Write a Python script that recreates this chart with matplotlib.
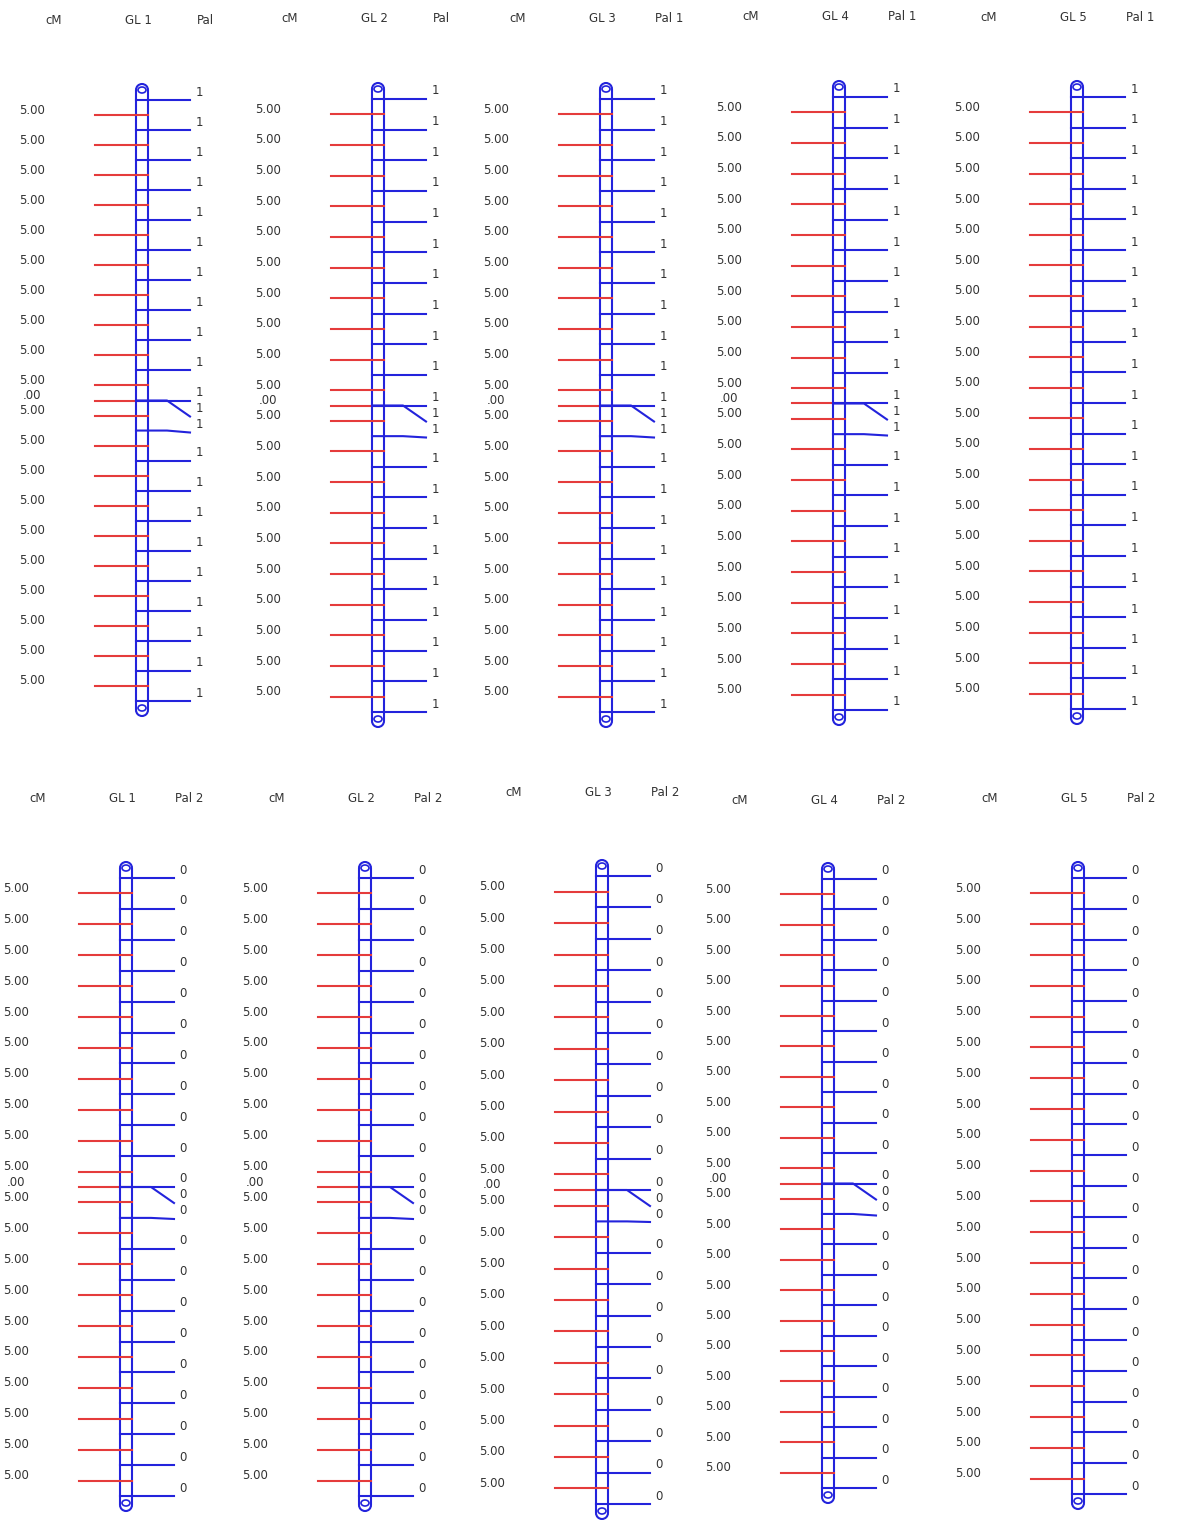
import matplotlib
matplotlib.use('Agg')
import matplotlib.pyplot as plt
from matplotlib.patches import Arc, Ellipse
from matplotlib.transforms import offset_copy

# marker positions (cM) on each linkage group
gl1_pos = [0, 5, 10, 15, 20, 25, 30, 35, 40, 45, 50, 50, 55, 60, 65, 70, 75, 80, 85, 90, 95, 100]
gl2_pos = [0, 5, 10, 15, 20, 25, 30, 35, 40, 45, 50, 50, 55, 60, 65, 70, 75, 80, 85, 90, 95, 100]
gl3_pos = [0, 5, 10, 15, 20, 25, 30, 35, 40, 45, 50, 50, 55, 60, 65, 70, 75, 80, 85, 90, 95, 100]
gl4_pos = [0, 5, 10, 15, 20, 25, 30, 35, 40, 45, 50, 50, 55, 60, 65, 70, 75, 80, 85, 90, 95, 100]
gl5_pos = [0, 5, 10, 15, 20, 25, 30, 35, 40, 45, 50, 55, 60, 65, 70, 75, 80, 85, 90, 95, 100]
positions = [gl1_pos, gl2_pos, gl3_pos, gl4_pos, gl5_pos]

group_names = ['GL 1', 'GL 2', 'GL 3', 'GL 4', 'GL 5']
top_titles = ['Pal', 'Pal', 'Pal 1', 'Pal 1', 'Pal 1']
bottom_titles = ['Pal 2', 'Pal 2', 'Pal 2', 'Pal 2', 'Pal 2']
top_locus = '1'
bottom_locus = '0'

# page layout in pixels: bar centre x, first marker y, last marker y, header y
top_layout = [(142, 100, 701, 20), (378, 99, 712, 19), (606, 99, 712, 19),
              (839, 97, 710, 16), (1077, 97, 709, 17)]
bot_layout = [(126, 878, 1496, 798), (365, 878, 1496, 798), (602, 876, 1504, 793),
              (828, 879, 1488, 800), (1078, 878, 1494, 798)]

W, H = 1181, 1520
RED = '#e53b3b'
BLUE = '#2323dc'
TXT = '#333333'
plt.rcParams['font.family'] = ['DejaVu Sans']

fig = plt.figure(figsize=(W / 100., H / 100.), dpi=100)
fig.patch.set_facecolor('white')


def spread(anchors, gap):
    # push labels down so they don't overlap
    out = []
    for a in anchors:
        if out and a < out[-1] + gap - 1e-6:
            out.append(out[-1] + gap)
        else:
            out.append(a)
    return out


def fmt(d):
    s = '%.2f' % d
    return s[1:] if s.startswith('0') else s


def draw_map(layout, pos, name, title, locus):
    cx, y0, y1, yh = layout
    s = (y1 - y0) / float(pos[-1] - pos[0])   # px per cM
    px = 1. / s
    top_px, bot_px = yh - 20, y1 + 40
    ax = fig.add_axes([(cx - 140.) / W, 1 - bot_px / float(H), 280. / W, (bot_px - top_px) / float(H)])
    ax.set_xlim(-140, 140)
    ax.set_ylim((bot_px - y0) * px, (top_px - y0) * px)
    ax.axis('off')

    # chromosome bar
    ytop = pos[0] - 16 * px
    ybot = pos[-1] + 15 * px
    r = 6
    for xx in (-r, r):
        ax.plot([xx, xx], [ytop + r * px, ybot - r * px], color=BLUE, lw=1.5, solid_capstyle='butt')
    ax.add_patch(Arc((0, ytop + r * px), 2 * r, 2 * r * px, theta1=180, theta2=360, color=BLUE, lw=1.5))
    ax.add_patch(Arc((0, ybot - r * px), 2 * r, 2 * r * px, theta1=0, theta2=180, color=BLUE, lw=1.5))
    ax.add_patch(Ellipse((0, ytop + 6 * px), 8, 6 * px, fill=False, ec=BLUE, lw=1.2))
    ax.add_patch(Ellipse((0, ybot - 8 * px), 8, 6 * px, fill=False, ec=BLUE, lw=1.2))

    # intervals on the left (red), labelled with distance
    mids = [(a + b) / 2. for a, b in zip(pos[:-1], pos[1:])]
    dists = [b - a for a, b in zip(pos[:-1], pos[1:])]
    lab_l = spread(mids, 2.5)
    tl = offset_copy(ax.transData, fig, x=0, y=5, units='dots')
    for m, l, d in zip(mids, lab_l, dists):
        if abs(l - m) > 1e-6:
            ax.plot([-47, -35, r], [l, m, m], color=RED, lw=1.5)
        else:
            ax.plot([-47, r], [m, m], color=RED, lw=1.5)
        ax.text(-110, l, fmt(d), transform=tl, ha='center', va='center', fontsize=8.5, color=TXT)

    # loci on the right (blue)
    lab_r = spread(pos, 16 * px)
    tr = offset_copy(ax.transData, fig, x=0, y=8, units='dots')
    for p, l in zip(pos, lab_r):
        if abs(l - p) > 1e-6:
            ax.plot([-r, 25, 48], [p, p, l], color=BLUE, lw=1.5)
        else:
            ax.plot([-r, 48], [p, p], color=BLUE, lw=1.5)
        ax.text(57, l, locus, transform=tr, ha='center', va='center', fontsize=8.5, color=TXT)

    yt = (yh - y0) * px
    ax.text(-88, yt, 'cM', ha='center', va='center', fontsize=8.5, color=TXT)
    ax.text(-4, yt, name, ha='center', va='center', fontsize=8.5, color=TXT)
    ax.text(63, yt, title, ha='center', va='center', fontsize=8.5, color=TXT)


for i in range(5):
    draw_map(top_layout[i], positions[i], group_names[i], top_titles[i], top_locus)
    draw_map(bot_layout[i], positions[i], group_names[i], bottom_titles[i], bottom_locus)

fig.savefig('out.png', dpi=100, facecolor='white')
